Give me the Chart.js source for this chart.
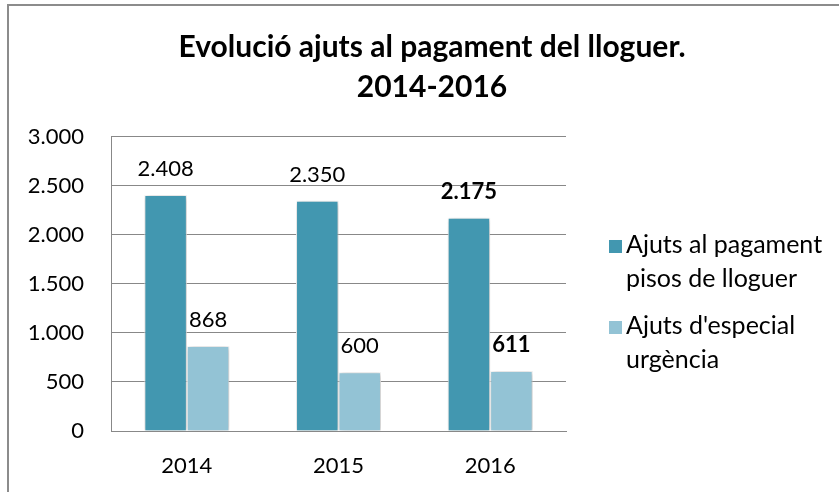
<!DOCTYPE html>
<html>
<head>
<meta charset="utf-8">
<script src="https://cdn.jsdelivr.net/npm/chart.js@4.4.1/dist/chart.umd.min.js"></script>
<style>
  html, body { margin: 0; padding: 0; background: #fff; overflow: hidden; }
  #frame {
    position: absolute; left: 7px; top: 4px; width: 900px; height: 600px;
    border-left: 2px solid #8c8c8c; border-top: 2px solid #8c8c8c;
  }
  #wrap { position: absolute; left: 9px; top: 6px; width: 830px; height: 486px; }
</style>
</head>
<body>
<div id="frame"></div>
<div id="wrap"><canvas id="chart"></canvas></div>
<script>
const years = ['2014', '2015', '2016'];
const ajutsLloguer = [2408, 2350, 2175];
const ajutsUrgencia = [868, 600, 611];
const yTicks = [0, 500, 1000, 1500, 2000, 2500, 3000];

const titleLines = ['Evolució ajuts al pagament del lloguer.', '2014-2016'];
const seriesNames = [
  ['Ajuts al pagament', 'pisos de lloguer'],
  ["Ajuts d'especial", 'urgència']
];
const highlightYear = '2016';

const FONT = 'Lato, Calibri, sans-serif';
const GRID = '#888888';

// 2408 -> "2.408"
const fmt = v => String(v).replace(/\B(?=(\d{3})+(?!\d))/g, '.');

// soft glow behind the bars
const barShadow = {
  id: 'barShadow',
  beforeDatasetDraw(chart) {
    const ctx = chart.ctx;
    ctx.save();
    ctx.shadowColor = 'rgba(0,0,0,0.3)';
    ctx.shadowBlur = 6;
    ctx.shadowOffsetX = 1;
    ctx.shadowOffsetY = 1;
  },
  afterDatasetDraw(chart) {
    chart.ctx.restore();
  }
};

// value above each bar, the last year in bold
const barLabels = {
  id: 'barLabels',
  afterDatasetsDraw(chart) {
    const ctx = chart.ctx;
    chart.data.datasets.forEach((ds, i) => {
      chart.getDatasetMeta(i).data.forEach((bar, j) => {
        const bold = chart.data.labels[j] === highlightYear;
        ctx.save();
        ctx.font = (bold ? 'bold ' : '') + '22px ' + FONT;
        ctx.fillStyle = '#000';
        ctx.textAlign = 'center';
        ctx.textBaseline = 'alphabetic';
        ctx.fillText(fmt(ds.data[j]), bar.x, bar.y - 19);
        ctx.restore();
      });
    });
  }
};

// two-line legend in the space kept free on the right
const sideLegend = {
  id: 'sideLegend',
  afterDraw(chart) {
    const ctx = chart.ctx;
    const area = chart.chartArea;
    const lineStep = 34;
    const itemStep = 81;
    ctx.save();
    ctx.font = '25px ' + FONT;
    ctx.textAlign = 'left';
    ctx.textBaseline = 'alphabetic';
    chart.data.datasets.forEach((ds, i) => {
      const base = area.top + 116 + i * itemStep;
      ctx.fillStyle = ds.backgroundColor;
      ctx.fillRect(area.right + 43, base - 13, 13, 13);
      ctx.fillStyle = '#000';
      seriesNames[i].forEach((line, k) => {
        ctx.fillText(line, area.right + 60, base + k * lineStep);
      });
    });
    ctx.restore();
  }
};

new Chart(document.getElementById('chart'), {
  type: 'bar',
  data: {
    labels: years,
    datasets: [
      {
        label: seriesNames[0].join(' '),
        data: ajutsLloguer,
        backgroundColor: '#4297b0',
        borderColor: '#ffffff',
        borderWidth: 1,
        yAxisID: 'y'
      },
      {
        label: seriesNames[1].join(' '),
        data: ajutsUrgencia,
        backgroundColor: '#93c3d5',
        borderColor: '#ffffff',
        borderWidth: 1,
        yAxisID: 'y'
      }
    ]
  },
  options: {
    responsive: true,
    maintainAspectRatio: false,
    animation: false,
    layout: { padding: { left: 16, right: 0, top: 0, bottom: 0 } },
    datasets: {
      bar: { categoryPercentage: 0.56, barPercentage: 1 }
    },
    plugins: {
      legend: { display: false },
      tooltip: { enabled: false },
      title: {
        display: true,
        text: titleLines,
        color: '#000',
        font: { family: FONT, size: 30, weight: 'bold', lineHeight: 1.3333 },
        padding: { top: 21, bottom: 30 }
      }
    },
    scales: {
      x: {
        grid: { display: false },
        border: { display: true, color: GRID },
        ticks: { color: '#000', font: { family: FONT, size: 22 }, padding: 14 },
        afterFit(s) { s.height = 61; }
      },
      y: {
        min: 0,
        max: 3000,
        afterBuildTicks(s) { s.ticks = yTicks.map(v => ({ value: v })); },
        grid: { color: GRID, drawTicks: false },
        border: { display: true, color: GRID },
        ticks: {
          color: '#000',
          font: { family: FONT, size: 22 },
          padding: 27,
          callback: v => fmt(v)
        },
        afterFit(s) { s.width = 86; }
      },
      // keeps room for the legend on the right
      legendSpace: {
        type: 'linear',
        position: 'right',
        grid: { display: false },
        border: { display: false },
        ticks: { display: false },
        afterFit(s) { s.width = 273; }
      }
    }
  },
  plugins: [barShadow, barLabels, sideLegend]
});
</script>
</body>
</html>
